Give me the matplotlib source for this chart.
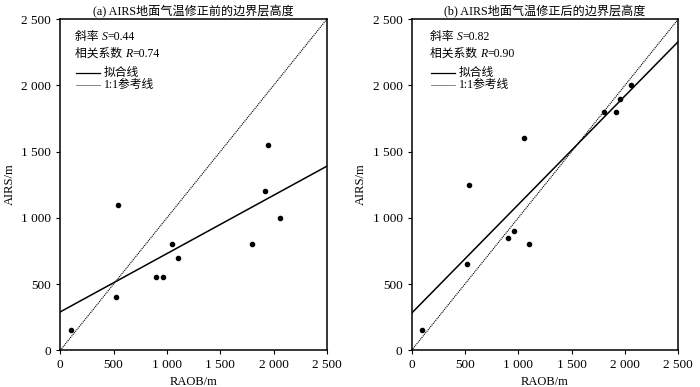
import numpy as np
import matplotlib
matplotlib.use("Agg")
from matplotlib import pyplot as plt
from matplotlib.lines import Line2D

plt.rcParams['font.family'] = ['Liberation Serif', 'Noto Sans CJK SC']

# panel (a): before correction
raob_a = [100, 520, 540, 900, 960, 1050, 1100, 1800, 1920, 1950, 2060]
airs_a = [150, 400, 1100, 550, 550, 800, 700, 800, 1200, 1550, 1000]
fit_a = [0.44, 290]  # slope, intercept

# panel (b): after correction
raob_b = [100, 520, 540, 900, 960, 1050, 1100, 1800, 1920, 1950, 2060]
airs_b = [150, 650, 1250, 850, 900, 1600, 800, 1800, 1800, 1900, 2000]
fit_b = [0.82, 280]

titles = ["(a) AIRS地面气温修正前的边界层高度", "(b) AIRS地面气温修正后的边界层高度"]
stats = [("0.44", "0.74"), ("0.82", "0.90")]
ticks = [0, 500, 1000, 1500, 2000, 2500]
tick_labels = ["0", "500", "1 000", "1 500", "2 000", "2 500"]

fig = plt.figure(figsize=(7, 3.87), dpi=100)
axes = [fig.add_axes([0.0861, 0.0948, 0.381, 0.856]),
        fig.add_axes([0.588, 0.0948, 0.381, 0.856])]
renderer = fig.canvas.get_renderer()


def rich_text(ax, x, y, pieces, size):
    # pieces: list of (text, italic) placed one after another on a baseline
    for s, it in pieces:
        t = ax.text(x, y, s, transform=ax.transAxes, fontsize=size,
                    va='baseline', ha='left',
                    style='italic' if it else 'normal')
        bb = t.get_window_extent(renderer)
        x += bb.width / ax.get_window_extent(renderer).width


panels = [(raob_a, airs_a, fit_a), (raob_b, airs_b, fit_b)]
offsets = [0.0, 0.014]
for ax, (x, y, fit), title, (s, r), dx in zip(axes, panels, titles, stats, offsets):
    xx = np.array([0, 2500])
    ax.plot(xx, fit[0] * xx + fit[1], color='black', lw=1.1)
    ax.plot(xx, xx, color='black', lw=0.8, ls=(0, (1, 0.8)))
    ax.scatter(x, y, s=9, color='black', zorder=3)
    ax.set_xlim(0, 2500)
    ax.set_ylim(0, 2500)
    ax.set_xticks(ticks)
    ax.set_xticklabels(tick_labels)
    ax.set_yticks(ticks)
    ax.set_yticklabels(tick_labels)
    ax.tick_params(direction='out', length=3, width=0.8, labelsize=9.5,
                   top=False, right=False)
    for sp in ax.spines.values():
        sp.set_linewidth(1.1)
    ax.set_xlabel("RAOB/m", fontsize=9, labelpad=3)
    ax.set_ylabel("AIRS/m", fontsize=9, labelpad=4)
    ax.set_title(title, fontsize=8.7, pad=3)

    rich_text(ax, 0.055 + dx, 0.937, [("斜率 ", False), ("S", True), ("=" + s, False)], 8.5)
    rich_text(ax, 0.055 + dx, 0.886, [("相关系数 ", False), ("R", True), ("=" + r, False)], 8.5)
    # legend drawn by hand to match the tight row spacing
    ax.add_line(Line2D([0.059 + dx, 0.15 + dx], [0.838, 0.838], transform=ax.transAxes,
                       color='black', lw=0.9))
    ax.add_line(Line2D([0.059 + dx, 0.15 + dx], [0.801, 0.801], transform=ax.transAxes,
                       color='0.45', lw=0.6))
    ax.text(0.163 + dx, 0.838, "拟合线", transform=ax.transAxes, fontsize=8.5,
            va='center', ha='left')
    ax.text(0.163 + dx, 0.801, "1:1参考线", transform=ax.transAxes, fontsize=8.5,
            va='center', ha='left')

fig.savefig("out.png", dpi=100)
